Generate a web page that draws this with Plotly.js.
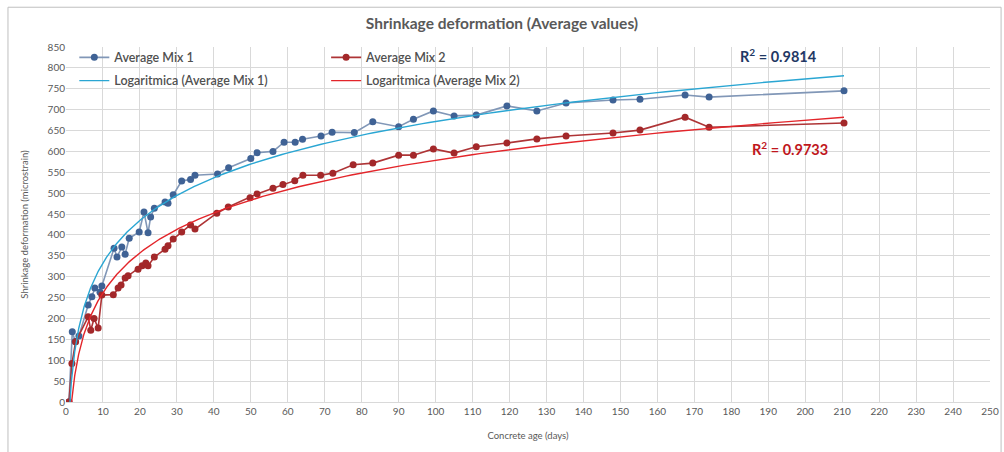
<!DOCTYPE html>
<html>
<head>
<meta charset="utf-8">
<script src="https://cdn.plot.ly/plotly-3.0.1.min.js"></script>
<style>
html,body{margin:0;padding:0;background:#fff;}
#chart{width:1004px;height:452px;}
</style>
</head>
<body>
<div id="chart"></div>
<script>
// ---- Data ----
const mix1Days = [0.8, 1.7, 2.5, 3.5, 6, 7, 7.8, 9.2, 9.7, 13, 13.8, 15.1, 16, 17.1, 19.8, 21.1, 22.2, 22.9, 23.9, 26.8, 27.6, 29, 31.3, 33.7, 34.9, 41, 44, 50, 51.7, 56, 59, 62, 64, 69, 72, 78, 83, 90, 94, 99.4, 105, 111, 119.3, 127.4, 135.3, 148, 155.3, 167.5, 174, 210.5];
const mix1Vals = [0, 168, 145, 158, 232, 252, 273, 263, 278, 368, 347, 371, 354, 392, 407, 455, 405, 443, 464, 479, 476, 496, 529, 533, 543, 546, 561, 583, 597, 600, 622, 622, 629, 637, 646, 645, 671, 659, 677, 697, 685, 687, 709, 697, 716, 723, 725, 735, 730, 745];

const mix2Days = [0.8, 1.6, 2.6, 6, 6.7, 7.6, 8.7, 9.7, 12.8, 14.1, 14.9, 16, 16.8, 19.5, 20.6, 21.6, 22.2, 23.9, 26.8, 27.6, 29, 31.3, 33.7, 34.9, 40.8, 43.9, 49.8, 51.7, 56, 58.7, 61.9, 64.1, 68.9, 72.2, 77.7, 83, 90, 94, 99.4, 105, 111, 119.3, 127.4, 135.3, 148, 155.3, 167.5, 174, 210.5];
const mix2Vals = [0, 92, 144, 204, 172, 200, 177, 256, 257, 273, 280, 297, 302, 318, 326, 333, 326, 347, 366, 374, 390, 407, 424, 414, 452, 467, 489, 498, 512, 521, 530, 543, 543, 548, 568, 572, 591, 591, 606, 596, 611, 620, 630, 637, 644, 651, 682, 658, 668];

const seriesNames = ["Average Mix 1", "Average Mix 2", "Logaritmica (Average Mix 1)", "Logaritmica (Average Mix 2)"];
const r2Labels = ["R<sup>2</sup> = 0.9814", "R<sup>2</sup> = 0.9733"];
const titleText = "Shrinkage deformation (Average values)";
const xTitle = "Concrete age (days)";
const yTitle = "Shrinkage deformation (microstrain)";

// ---- Logarithmic least-squares trendline (y = a ln x + b) ----
function logFit(xs, ys) {
  let n = 0, sx = 0, sy = 0, sxx = 0, sxy = 0;
  for (let i = 0; i < xs.length; i++) {
    if (xs[i] <= 0) continue;
    const l = Math.log(xs[i]);
    n++; sx += l; sy += ys[i]; sxx += l * l; sxy += l * ys[i];
  }
  const a = (n * sxy - sx * sy) / (n * sxx - sx * sx);
  const b = (sy - a * sx) / n;
  return {a, b};
}
function trendCurve(xs, ys) {
  const f = logFit(xs, ys);
  const lo = Math.min(...xs), hi = Math.max(...xs);
  const tx = [], ty = [];
  const N = 300;
  for (let i = 0; i <= N; i++) {
    const x = lo * Math.pow(hi / lo, i / N);
    tx.push(x); ty.push(f.a * Math.log(x) + f.b);
  }
  return {tx, ty};
}
const t1 = trendCurve(mix1Days, mix1Vals);
const t2 = trendCurve(mix2Days, mix2Vals);

const FONT = "Lato, 'Open Sans', sans-serif";
const GREY = "#595959";

const traces = [
  {x: mix1Days, y: mix1Vals, name: seriesNames[0], type: "scatter", mode: "lines+markers",
   line: {color: "#8197b7", width: 1.6}, marker: {color: "#3f6295", size: 7},
   legend: "legend", legendgroup: "a"},
  {x: mix2Days, y: mix2Vals, name: seriesNames[1], type: "scatter", mode: "lines+markers",
   line: {color: "#ae3436", width: 1.6}, marker: {color: "#a3282a", size: 7},
   legend: "legend2", legendgroup: "c"},
  {x: t1.tx, y: t1.ty, name: seriesNames[2], type: "scatter", mode: "lines",
   line: {color: "#2aa6d3", width: 1.4}, legend: "legend", legendgroup: "b", hoverinfo: "skip"},
  {x: t2.tx, y: t2.ty, name: seriesNames[3], type: "scatter", mode: "lines",
   line: {color: "#e3252a", width: 1.4}, legend: "legend2", legendgroup: "d", hoverinfo: "skip"}
];

const legendCommon = {
  orientation: "v", bgcolor: "rgba(0,0,0,0)", borderwidth: 0,
  font: {family: FONT, size: 12.5, color: "#505050", weight: 600}, itemwidth: 30,
  tracegroupgap: 4, xanchor: "left", yanchor: "top", traceorder: "grouped"
};

const layout = {
  width: 1004, height: 452,
  margin: {l: 66, r: 14, t: 47, b: 50},
  paper_bgcolor: "#ffffff", plot_bgcolor: "#ffffff",
  font: {family: FONT, color: GREY},
  title: {text: "<b>" + titleText + "</b>", x: 0.5, xanchor: "center", y: 0.948, yanchor: "middle",
          font: {family: FONT, size: 15.5, color: GREY}},
  showlegend: true,
  legend: Object.assign({}, legendCommon, {x: 0.009, y: 1.012}),
  legend2: Object.assign({}, legendCommon, {x: 0.2815, y: 1.012}),
  xaxis: {
    range: [0, 250], dtick: 10, tick0: 0, showgrid: true, gridcolor: "#d9d9d9", gridwidth: 1,
    zeroline: false, showline: true, linecolor: "#d9d9d9", ticks: "",
    tickfont: {family: FONT, size: 10, color: GREY},
    title: {text: xTitle, font: {family: FONT, size: 9.5, color: GREY}, standoff: 16}
  },
  yaxis: {
    range: [0, 850], dtick: 50, tick0: 0, showgrid: true, gridcolor: "#d9d9d9", gridwidth: 1,
    zeroline: false, showline: false, ticks: "",
    tickfont: {family: FONT, size: 10, color: GREY},
    title: {text: yTitle, font: {family: FONT, size: 9.5, color: GREY}, standoff: 17}
  },
  shapes: [
    {type: "rect", xref: "paper", yref: "paper", x0: 0, x1: 0.548, y0: 0.854, y1: 1.0,
     fillcolor: "#ffffff", line: {width: 0}, layer: "between"},
    {type: "rect", xref: "paper", yref: "paper", x0: -0.0628, x1: 1.012, y0: -0.17, y1: 1.112,
     fillcolor: "rgba(0,0,0,0)", line: {color: "#bfbfbf", width: 1}, layer: "above"}
  ],
  annotations: [
    {text: "<b>" + r2Labels[0] + "</b>", xref: "paper", yref: "paper", x: 0.771, y: 0.975,
     xanchor: "center", yanchor: "middle", showarrow: false,
     font: {family: FONT, size: 14.5, color: "#1f3864"}},
    {text: "<b>" + r2Labels[1] + "</b>", xref: "paper", yref: "paper", x: 0.784, y: 0.715,
     xanchor: "center", yanchor: "middle", showarrow: false,
     font: {family: FONT, size: 14.5, color: "#c0161c"}}
  ]
};

Plotly.newPlot("chart", traces, layout, {displayModeBar: false, staticPlot: true});
</script>
</body>
</html>
